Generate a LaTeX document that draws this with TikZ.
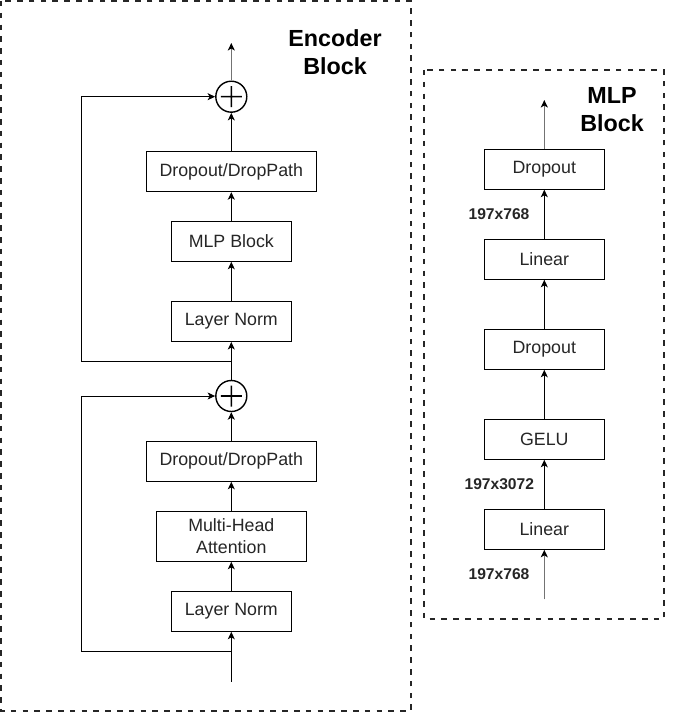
\documentclass[tikz,border=0pt]{standalone}
\usepackage{fontspec}
\setmainfont{Liberation Sans}
\usetikzlibrary{arrows.meta}
\begin{document}
\begin{tikzpicture}[x=1bp,y=-1bp,
  box/.style={draw=black,line width=1bp,minimum height=40bp,inner sep=0pt,align=center,
    font=\fontsize{17.8bp}{21.5bp}\selectfont,text=black!85},
  sumnode/.style={draw=black,circle,line width=1.4bp,minimum size=31bp,inner sep=0pt},
  frame/.style={draw=black!85,line width=1.3bp,dash pattern=on 5.5bp off 6.3bp},
  title/.style={align=center,font=\fontsize{23.3bp}{28bp}\selectfont\bfseries},
  dim/.style={font=\fontsize{15.6bp}{18bp}\selectfont\bfseries,text=black!85},
  conn/.style={line width=1bp,-{Stealth[length=7.5bp,width=7bp,inset=2bp]}},
  grayconn/.style={line width=1.4bp,draw=black!55,-{Stealth[length=7.5bp,width=7bp,inset=2bp,color=black]}},
  cross/.style={fill=black,draw=none}]
\useasboundingbox (0,0) rectangle (685,728);
\fill[white] (0,0) rectangle (685,728);

% frames
\draw[frame] (1,1) rectangle (411,711);
\draw[frame] (424,70) rectangle (664,619);
\node[title] (enctitle) at (335,52) {Encoder\\Block};
\node[title] (mlptitle) at (612,110) {MLP\\Block};

% encoder nodes
\node[sumnode] (p1) at (231.3,96.7) {};
\node[box,minimum width=170bp] (dd1) at (231.3,171.7) {Dropout/DropPath};
\node[box,minimum width=120bp] (mlp) at (231.3,241.3) {MLP Block};
\node[box,minimum width=120bp] (ln1) at (231.3,321.5) {Layer Norm};
\node[sumnode] (p2) at (231.3,396) {};
\node[box,minimum width=170bp] (dd2) at (231.3,461.3) {Dropout/DropPath};
\node[box,minimum width=150bp,minimum height=50bp] (mha) at (231.3,536.3) {Multi-Head\\Attention};
\node[box,minimum width=120bp] (ln2) at (231.3,611.3) {Layer Norm};
\coordinate (encin) at (231.3,681.7);
\coordinate (encout) at (231.3,43);
\coordinate (br1) at (231.3,361);
\coordinate (br2) at (231.3,651);
\coordinate (sk1) at (81.7,361);
\coordinate (sk2) at (81.7,651);

% plus signs as one cross-shaped polygon each
\foreach \p in {p1,p2}{
  \fill[cross] (\p.center) ++(-0.8,-10.5) -- ++(1.6,0) -- ++(0,9.7) -- ++(9.7,0) -- ++(0,1.6)
    -- ++(-9.7,0) -- ++(0,9.7) -- ++(-1.6,0) -- ++(0,-9.7) -- ++(-9.7,0) -- ++(0,-1.6)
    -- ++(9.7,0) -- cycle;
}

% encoder connectors
\draw[conn] (encin) -- (ln2);
\draw[conn] (ln2) -- (mha);
\draw[conn] (mha) -- (dd2);
\draw[conn] (dd2) -- (p2);
\draw[conn] (p2) -- (ln1);
\draw[conn] (ln1) -- (mlp);
\draw[conn] (mlp) -- (dd1);
\draw[conn] (dd1) -- (p1);
\draw[grayconn] (p1) -- (encout);
\draw[conn] (br2) -- (sk2) |- (p2);
\draw[conn] (br1) -- (sk1) |- (p1);

% MLP nodes
\node[box,minimum width=120bp] (mdrop2) at (544.3,169.2) {Dropout};
\node[box,minimum width=120bp] (mlin2) at (544.3,259.3) {Linear};
\node[box,minimum width=120bp] (mdrop1) at (544.3,349.3) {Dropout};
\node[box,minimum width=120bp] (mgelu) at (544.3,439.3) {GELU};
\node[box,minimum width=120bp] (mlin1) at (544.3,529.3) {Linear};
\coordinate (mlpin) at (544.3,599.3);
\coordinate (mlpout) at (544.3,100);

\draw[grayconn] (mlpin) -- (mlin1);
\draw[conn] (mlin1) -- (mgelu);
\draw[conn] (mgelu) -- (mdrop1);
\draw[conn] (mdrop1) -- (mlin2);
\draw[conn] (mlin2) -- (mdrop2);
\draw[grayconn] (mdrop2) -- (mlpout);

\node[dim] (d1) at (499,214) {197x768};
\node[dim] (d2) at (499.3,484.3) {197x3072};
\node[dim] (d3) at (499,574.3) {197x768};
\end{tikzpicture}
\end{document}
